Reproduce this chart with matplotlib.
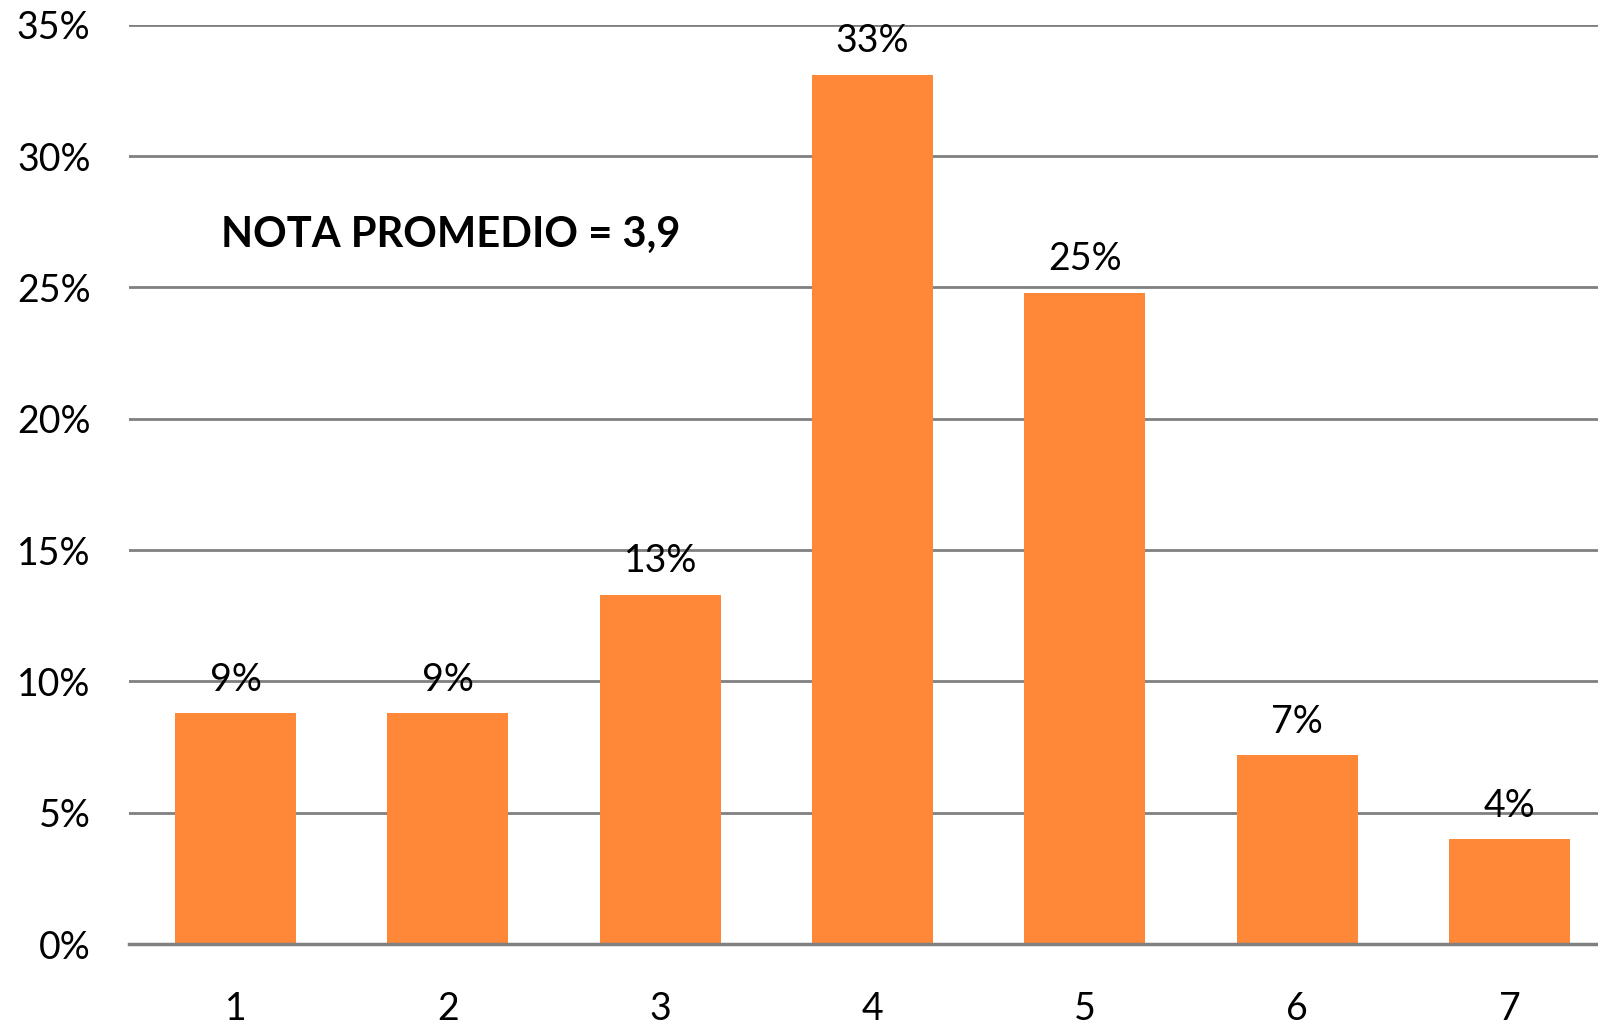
import matplotlib.pyplot as plt
from matplotlib.ticker import PercentFormatter

notas = [1, 2, 3, 4, 5, 6, 7]
porcentajes = [8.8, 8.8, 13.3, 33.1, 24.8, 7.2, 4.0]
etiquetas = ["9%", "9%", "13%", "33%", "25%", "7%", "4%"]
y_ticks = [0, 5, 10, 15, 20, 25, 30, 35]

orange = "#ff8838"
grid_gray = "#808080"
font = "Lato"

fig = plt.figure(figsize=(15.98, 10.29), dpi=100)
ax = fig.add_axes([0.081, 0.0826, 0.919, 0.8934])

ax.bar(notas, porcentajes, width=0.57, color=orange, zorder=2)

for x, y, s in zip(notas, porcentajes, etiquetas):
    ax.annotate(s, (x, y), xytext=(0, 11), textcoords="offset points",
                ha="center", va="bottom", fontsize=27, family=font, zorder=1)

ax.set_xlim(0.5, 7.416)
ax.set_ylim(0, 35)
ax.set_yticks(y_ticks)
ax.yaxis.set_major_formatter(PercentFormatter(decimals=0))
ax.set_xticks(notas)
ax.set_xticklabels([str(n) for n in notas])
ax.grid(axis="y", color=grid_gray, linewidth=2, zorder=0)
ax.set_axisbelow(True)

for side in ["top", "right", "left"]:
    ax.spines[side].set_visible(False)
ax.spines["bottom"].set_color(grid_gray)
ax.spines["bottom"].set_linewidth(2.5)
ax.tick_params(axis="both", length=0, labelsize=27)
ax.tick_params(axis="y", pad=28)
ax.tick_params(axis="x", pad=34)
for lbl in ax.get_xticklabels() + ax.get_yticklabels():
    lbl.set_family(font)

ax.text(0.93, 27.0, "NOTA PROMEDIO = 3,9", fontsize=30, fontweight="bold",
        family=font, ha="left", va="center")

fig.savefig("out.png", dpi=100)
